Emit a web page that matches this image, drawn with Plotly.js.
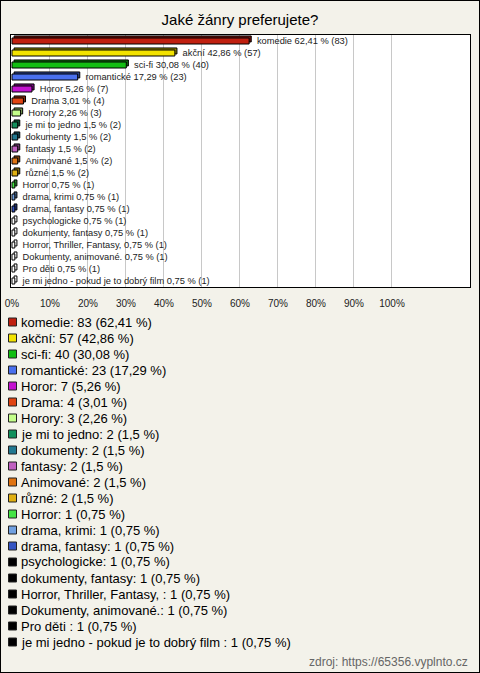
<!DOCTYPE html>
<html>
<head>
<meta charset="utf-8">
<script src="https://cdn.plot.ly/plotly-3.0.1.min.js"></script>
<style>
html,body{margin:0;padding:0;background:#f3f2ea;}
#wrap{width:478px;height:671px;border:1px solid #000;background:#f3f2ea;}
#chart{width:478px;height:671px;}
</style>
</head>
<body>
<div id="wrap"><div id="chart"></div></div>
<script>
// ---- data ----
const categories = ["komedie","akční","sci-fi","romantické","Horor","Drama","Horory","je mi to jedno","dokumenty","fantasy","Animované","různé","Horror","drama, krimi","drama, fantasy","psychologicke","dokumenty, fantasy","Horror, Thriller, Fantasy, ","Dokumenty, animované.","Pro děti ","je mi jedno - pokud je to dobrý film "];
const counts = [83,57,40,23,7,4,3,2,2,2,2,2,1,1,1,1,1,1,1,1,1];
const percents = [62.41,42.86,30.08,17.29,5.26,3.01,2.26,1.5,1.5,1.5,1.5,1.5,0.75,0.75,0.75,0.75,0.75,0.75,0.75,0.75,0.75];
const percentLabels = ["62,41","42,86","30,08","17,29","5,26","3,01","2,26","1,5","1,5","1,5","1,5","1,5","0,75","0,75","0,75","0,75","0,75","0,75","0,75","0,75","0,75"];
const colors = ["#c02010","#f2e200","#12be12","#4a70ee","#c412d0","#e04412","#c4ff8a","#12905c","#227890","#c060c0","#e07412","#e0b012","#44e444","#70a0e0","#3454c2","#000000","#000000","#000000","#000000","#000000","#000000"];
const xTickVals = [0,10,20,30,40,50,60,70,80,90,100];
const xTickText = ["0%","10%","20%","30%","40%","50%","60%","70%","80%","90%","100%"];
const titleText = "Jaké žánry preferujete?";
const sourceText = "zdroj: https://65356.vyplnto.cz";

// ---- helpers ----
function darken(hex, f){
  const n = parseInt(hex.slice(1),16);
  const r = Math.round(((n>>16)&255)*f), g = Math.round(((n>>8)&255)*f), b = Math.round((n&255)*f);
  return "rgb("+r+","+g+","+b+")";
}
const FIG_W = 478, FIG_H = 671;
const M = {l:10, r:9, t:34, b:385};
const PW = FIG_W - M.l - M.r, PH = FIG_H - M.t - M.b;
// page pixel -> paper coords (page = fig + 1 for border)
const px = x => (x - 1 - M.l) / PW;
const py = y => (FIG_H - M.b - (y - 1)) / PH;

const NB = "\u00a0";
const barText = categories.map((c,i) => NB + NB + NB + c.trim() + " " + percentLabels[i] + " % (" + counts[i] + ")");
const barFill = colors.map(c => c === "#000000" ? "#ffffff" : c);
const shadowFill = colors.map(c => c === "#000000" ? "#ffffff" : darken(c, 0.6));

const shadow = {
  type:"bar", orientation:"h", y:categories, x:percents, base:0.55,
  width:0.5, offset:-0.42,
  marker:{color:shadowFill, line:{color:"#000", width:1}},
  hoverinfo:"skip", showlegend:false
};
const main = {
  type:"bar", orientation:"h", y:categories, x:percents,
  width:0.5, offset:-0.25,
  marker:{color:barFill, line:{color:"#000", width:1}},
  text:barText, textposition:"outside", cliponaxis:false, constraintext:"none",
  textfont:{family:"Liberation Sans, Arial, sans-serif", size:9.3, color:"#222"},
  showlegend:false
};

const annotations = [];
const shapes = [];
categories.forEach((c,i) => {
  const yc = 322 + 16*i;
  annotations.push({
    xref:"paper", yref:"paper", x:px(19), y:py(yc), xanchor:"left", yanchor:"middle",
    text: c + ": " + counts[i] + " (" + percentLabels[i] + " %)", showarrow:false,
    font:{family:"Liberation Sans, Arial, sans-serif", size:13, color:"#000"}
  });
  shapes.push({
    type:"rect", xref:"paper", yref:"paper",
    x0:px(8.5), x1:px(16.5), y0:py(yc+4), y1:py(yc-4),
    fillcolor:colors[i], line:{color:"#222", width:1}
  });
});
annotations.push({
  xref:"paper", yref:"paper", x:px(470), y:py(662), xanchor:"right", yanchor:"middle",
  text:sourceText, showarrow:false,
  font:{family:"Liberation Sans, Arial, sans-serif", size:12, color:"#666"}
});

const layout = {
  width:FIG_W, height:FIG_H, margin:M,
  paper_bgcolor:"#f3f2ea", plot_bgcolor:"#ffffff",
  title:{text:titleText, x:0.5, xanchor:"center", y:1-(20-1)/FIG_H, yanchor:"middle",
         font:{family:"Liberation Sans, Arial, sans-serif", size:15, color:"#000"}},
  barmode:"overlay", bargap:0,
  xaxis:{range:[-0.26, 120.53], tickvals:xTickVals, ticktext:xTickText,
         showgrid:true, gridcolor:"#c8c8c8", gridwidth:1, zeroline:false,
         showline:true, mirror:true, linecolor:"#000", linewidth:1, ticks:"", ticklabelstandoff:7,
         tickfont:{family:"Liberation Sans, Arial, sans-serif", size:10, color:"#222"}, fixedrange:true},
  yaxis:{type:"category", autorange:"reversed", showticklabels:false, showgrid:false, zeroline:false,
         showline:true, mirror:true, linecolor:"#000", linewidth:1, ticks:"", fixedrange:true},
  annotations:annotations, shapes:shapes, showlegend:false
};
Plotly.newPlot("chart", [shadow, main], layout, {displayModeBar:false, staticPlot:true});
</script>
</body>
</html>
